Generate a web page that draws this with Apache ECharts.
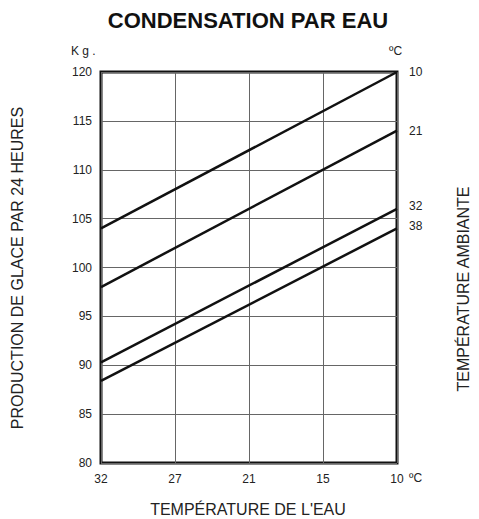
<!DOCTYPE html>
<html><head><meta charset="utf-8">
<script src="https://cdn.jsdelivr.net/npm/echarts@6/dist/echarts.min.js"></script>
<style>html,body{margin:0;padding:0;background:#fff}#c{width:479px;height:519px}</style>
</head><body><div id="c"></div>
<script>
const waterTemps = ['32', '27', '21', '15', '10'];
const ambientNames = ['10', '21', '32', '38'];
const line10 = [104, null, null, null, 120];
const line21 = [98, null, null, null, 114];
const line32 = [90.3, null, null, null, 106];
const line38 = [88.4, null, null, null, 104];
const yTicks = [80, 85, 90, 95, 100, 105, 110, 115, 120];

const chart = echarts.init(document.getElementById('c'), null, {renderer: 'svg'});
const F = 'Liberation Sans, Arial, sans-serif';
const seriesData = [line10, line21, line32, line38];
const labelOffsets = [[4, 0], [4, 0], [4, -3], [4, -2]];
chart.setOption({
  animation: false,
  grid: {left: 101, right: 82, top: 72, bottom: 56, show: true, borderColor: '#111', borderWidth: 3, containLabel: false},
  xAxis: {type: 'category', data: waterTemps, boundaryGap: false,
    axisLine: {show: false}, axisTick: {show: false},
    axisLabel: {fontFamily: F, fontSize: 12, color: '#222', margin: 10},
    splitLine: {show: true, lineStyle: {color: '#666', width: 1}}},
  yAxis: {type: 'value', min: 80, max: 120, interval: 5,
    axisLine: {show: false}, axisTick: {show: false},
    axisLabel: {fontFamily: F, fontSize: 12, color: '#222', margin: 9},
    splitLine: {show: true, lineStyle: {color: '#666', width: 1}}},
  series: seriesData.map((d, i) => ({
    type: 'line', name: ambientNames[i],
    data: d, connectNulls: true, symbol: 'none',
    lineStyle: {color: '#111', width: 2.5},
    endLabel: {show: true, formatter: ambientNames[i], fontFamily: F, fontSize: 12, color: '#222', offset: labelOffsets[i]}
  })),
  graphic: [
    {type: 'text', x: 248, y: 20, style: {text: 'CONDENSATION PAR EAU', fontFamily: F, fontSize: 22, fontWeight: 'bold', fill: '#111', align: 'center', verticalAlign: 'middle'}},
    {type: 'text', left: 71, top: 45, style: {text: 'K g .', fontFamily: F, fontSize: 12, fill: '#222'}},
    {type: 'text', left: 389, top: 45, style: {text: 'ºC', fontFamily: F, fontSize: 12, fill: '#222'}},
    {type: 'text', left: 409, top: 472, style: {text: 'ºC', fontFamily: F, fontSize: 12, fill: '#222'}},
    {type: 'text', x: 248, y: 509, style: {text: "TEMPÉRATURE DE L'EAU", fontFamily: F, fontSize: 16, fill: '#222', align: 'center', verticalAlign: 'middle'}},
    {type: 'text', x: 17, y: 268, rotation: Math.PI / 2, style: {text: 'PRODUCTION DE GLACE PAR 24 HEURES', fontFamily: F, fontSize: 16, fill: '#222', align: 'center', verticalAlign: 'middle'}},
    {type: 'text', x: 463, y: 289, rotation: Math.PI / 2, style: {text: 'TEMPÉRATURE AMBIANTE', fontFamily: F, fontSize: 16, fill: '#222', align: 'center', verticalAlign: 'middle'}}
  ]
});
</script></body></html>
